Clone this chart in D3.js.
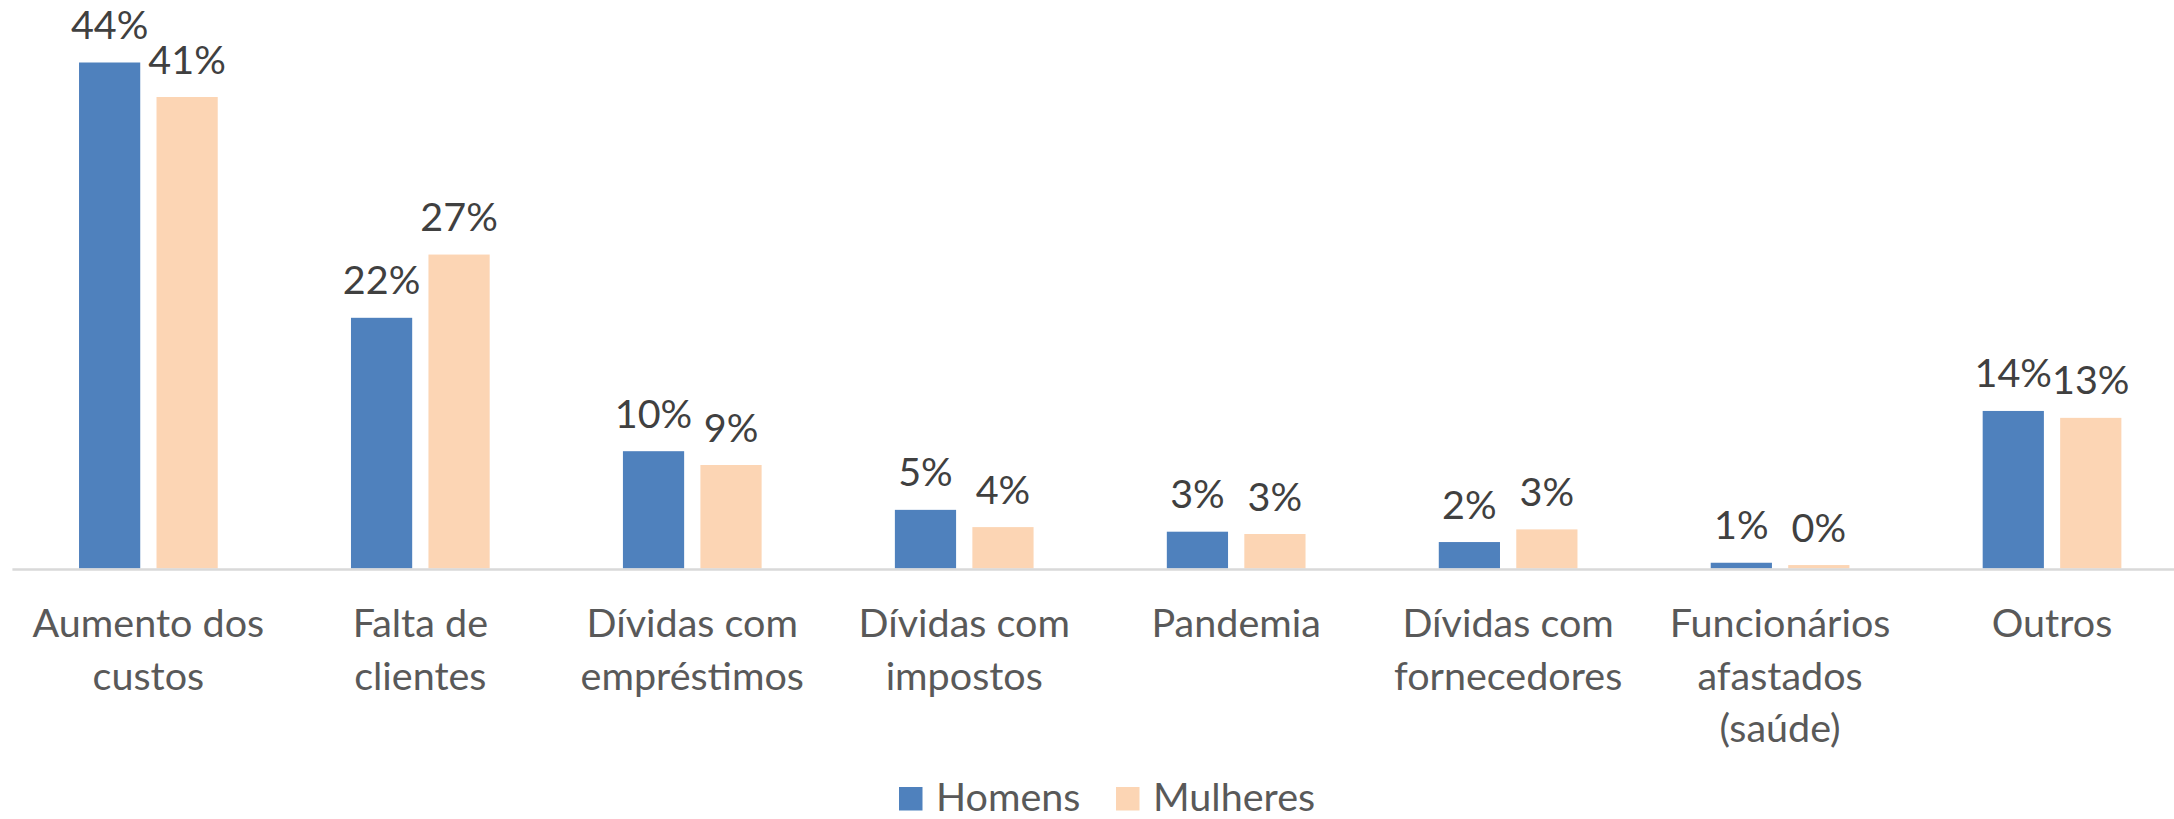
<!DOCTYPE html>
<html>
<head>
<meta charset="utf-8">
<script src="https://cdn.jsdelivr.net/npm/d3@7"></script>
<style>
  html, body { margin: 0; padding: 0; background: #ffffff; }
  svg { display: block; }
</style>
</head>
<body>
<svg id="chart" width="2174" height="819"></svg>
<script>
const categories = [
  "Aumento dos\ncustos",
  "Falta de\nclientes",
  "Dívidas com\nempréstimos",
  "Dívidas com\nimpostos",
  "Pandemia",
  "Dívidas com\nfornecedores",
  "Funcionários\nafastados\n(saúde)",
  "Outros"
];
const seriesNames = ["Homens", "Mulheres"];
const homens   = [44, 21.8, 10.2, 5.1, 3.2, 2.3, 0.5, 13.7];
const mulheres = [41, 27.3, 9.0, 3.6, 3.0, 3.4, 0.3, 13.1];
const seriesColors = ["#4f81bd", "#fcd5b4"];

const W = 2174, H = 819;
const FONT = "Lato, 'Open Sans', sans-serif";
const baseY = 568.5;

const svg = d3.select("#chart");

const x0 = d3.scaleBand()
  .domain(categories)
  .range([12.4, 2188])
  .paddingInner(0.49)
  .paddingOuter(0.245);

const x1 = d3.scaleBand()
  .domain(seriesNames)
  .range([0, x0.bandwidth()])
  .paddingInner(0.21)
  .paddingOuter(0);

const y = d3.scaleLinear()
  .domain([0, 50])
  .range([baseY, baseY - 50 * 11.5]);

const color = d3.scaleOrdinal().domain(seriesNames).range(seriesColors);

const data = categories.map((c, i) => ({
  cat: c,
  values: [
    { s: "Homens", v: homens[i] },
    { s: "Mulheres", v: mulheres[i] }
  ]
}));

// bars
const groups = svg.append("g").selectAll("g")
  .data(data)
  .join("g")
  .attr("transform", d => `translate(${x0(d.cat)},0)`);

groups.selectAll("rect")
  .data(d => d.values)
  .join("rect")
  .attr("x", d => x1(d.s))
  .attr("width", x1.bandwidth())
  .attr("y", d => y(d.v))
  .attr("height", d => y(0) - y(d.v))
  .attr("fill", d => color(d.s));

// data labels
groups.selectAll("text.lbl")
  .data(d => d.values)
  .join("text")
  .attr("class", "lbl")
  .attr("x", d => x1(d.s) + x1.bandwidth() / 2)
  .attr("y", d => y(d.v) - 23.5)
  .attr("text-anchor", "middle")
  .attr("font-family", FONT)
  .attr("font-size", 39.5)
  .attr("fill", "#404040")
  .text(d => Math.round(d.v) + "%");

// axis line
svg.append("line")
  .attr("x1", x0.range()[0])
  .attr("x2", x0.range()[1])
  .attr("y1", baseY + 1)
  .attr("y2", baseY + 1)
  .attr("stroke", "#d9d9d9")
  .attr("stroke-width", 2.5);

// category labels
const catG = svg.append("g").selectAll("text")
  .data(categories)
  .join("text")
  .attr("x", d => x0(d) + x0.bandwidth() / 2)
  .attr("y", 637)
  .attr("text-anchor", "middle")
  .attr("font-family", FONT)
  .attr("font-size", 39.5)
  .attr("fill", "#595959");

catG.selectAll("tspan")
  .data(d => d.split("\n"))
  .join("tspan")
  .attr("x", function() { return d3.select(this.parentNode).attr("x"); })
  .attr("dy", (d, i) => i === 0 ? 0 : 52.5)
  .text(d => d);

// legend
const legendX = [899, 1116];
const leg = svg.append("g").selectAll("g")
  .data(seriesNames)
  .join("g")
  .attr("transform", (d, i) => `translate(${legendX[i]},787)`);

leg.append("rect")
  .attr("width", 23.5)
  .attr("height", 23.5)
  .attr("fill", d => color(d));

leg.append("text")
  .attr("x", 37)
  .attr("y", 23.5)
  .attr("font-family", FONT)
  .attr("font-size", 39.5)
  .attr("fill", "#595959")
  .text(d => d);
</script>
</body>
</html>
